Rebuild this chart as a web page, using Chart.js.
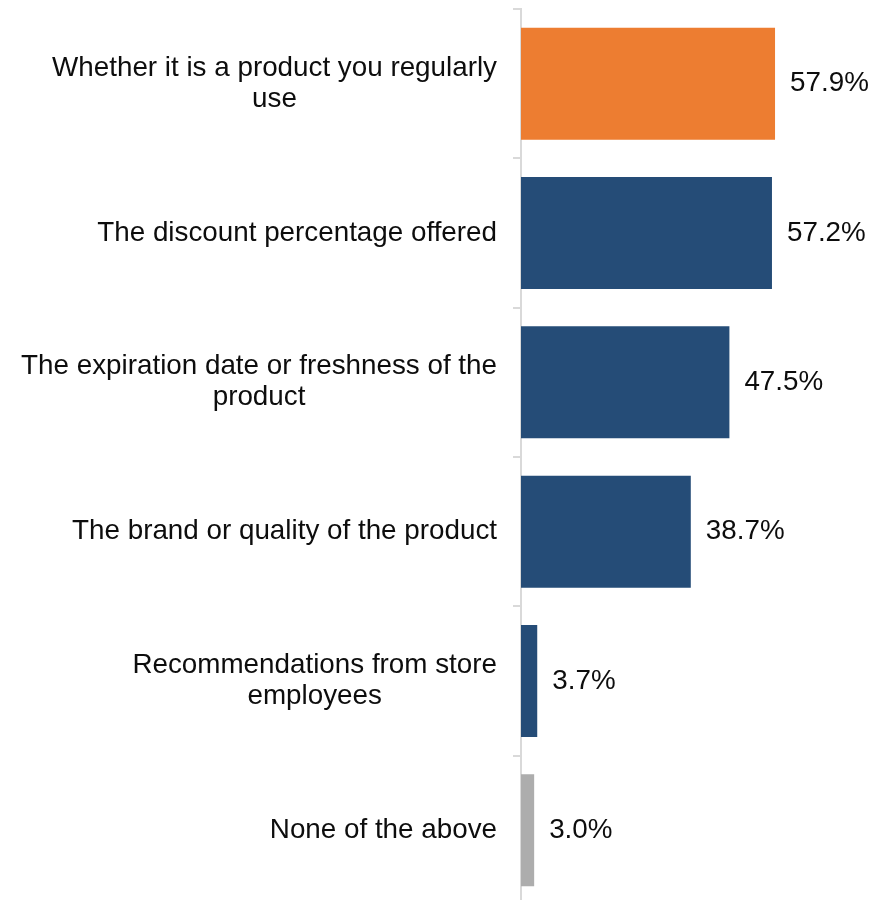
<!DOCTYPE html>
<html>
<head>
<meta charset="utf-8">
<script src="https://cdn.jsdelivr.net/npm/chart.js@4/dist/chart.umd.min.js"></script>
<style>
  html, body { margin: 0; padding: 0; background: #fff; overflow: hidden; }
  canvas { display: block; }
</style>
</head>
<body>
<canvas id="factorsChart" width="876" height="905"></canvas>
<script>
// Survey answers, top to bottom
const categories = [
    ['Whether it is a product you regularly', 'use'],
    ['The discount percentage offered'],
    ['The expiration date or freshness of the', 'product'],
    ['The brand or quality of the product'],
    ['Recommendations from store', 'employees'],
    ['None of the above']
];
const shares = [57.9, 57.2, 47.5, 38.7, 3.7, 3.0];
const barColors = ['#ED7D31', '#254C77', '#254C77', '#254C77', '#254C77', '#ADADAD'];

const FONT = '27.8px "Liberation Sans", Arial, sans-serif';
const LINE_GAP = 31;

// Category names (block right-aligned, lines centred) and the value after each bar
const labelPlugin = {
    id: 'barLabels',
    afterDatasetsDraw(chart) {
        const ctx = chart.ctx;
        const yScale = chart.scales.y;
        const meta = chart.getDatasetMeta(0);
        ctx.save();
        ctx.font = FONT;
        ctx.fillStyle = '#0d0d0d';
        ctx.textBaseline = 'middle';

        ctx.textAlign = 'center';
        categories.forEach((lines, i) => {
            const y = yScale.getPixelForTick(i);
            const widest = Math.max(...lines.map(l => ctx.measureText(l).width));
            const cx = yScale.right - 8 - 16 - widest / 2;
            lines.forEach((line, k) => {
                ctx.fillText(line, cx, y + (k - (lines.length - 1) / 2) * LINE_GAP);
            });
        });

        ctx.textAlign = 'left';
        meta.data.forEach((bar, i) => {
            ctx.fillText(shares[i].toFixed(1) + '%', bar.x + 15, bar.y);
        });
        ctx.restore();
    }
};

const ctx = document.getElementById('factorsChart').getContext('2d');
new Chart(ctx, {
    type: 'bar',
    data: {
        labels: categories,
        datasets: [{
            data: shares,
            backgroundColor: barColors,
            borderWidth: 0,
            categoryPercentage: 1,
            barPercentage: 0.75
        }]
    },
    options: {
        indexAxis: 'y',
        responsive: false,
        animation: false,
        layout: { padding: { top: 9, right: 4, bottom: 0, left: 0 } },
        plugins: {
            legend: { display: false },
            tooltip: { enabled: false }
        },
        scales: {
            x: {
                display: false,
                min: 0,
                max: 80
            },
            y: {
                afterFit(scale) { scale.width = 521; },
                grid: {
                    offset: true,
                    drawOnChartArea: false,
                    drawTicks: true,
                    tickLength: 8,
                    color: '#D9D9D9',
                    lineWidth: 2
                },
                border: { display: true, color: '#D9D9D9', width: 2 },
                ticks: { display: false }
            }
        }
    },
    plugins: [labelPlugin]
});
</script>
</body>
</html>
